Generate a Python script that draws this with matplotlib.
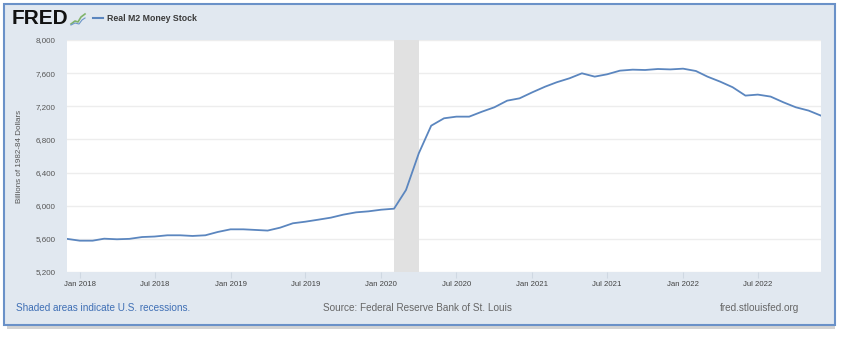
import matplotlib
matplotlib.use("Agg")
import matplotlib.pyplot as plt
from matplotlib.patches import Rectangle
from matplotlib.lines import Line2D
import pandas as pd

plt.rcParams['font.family'] = ['Liberation Sans', 'DejaVu Sans']

# ---- data (monthly, Dec 2017 .. Dec 2022) ----
start_month = "2017-12-01"
m2_values = [5600, 5578, 5578, 5602, 5595, 5600, 5622, 5628, 5643, 5643,
             5635, 5643, 5683, 5715, 5715, 5708, 5700, 5735, 5788, 5807,
             5831, 5856, 5892, 5920, 5932, 5952, 5964, 6190, 6633, 6966,
             7055, 7075, 7075, 7135, 7188, 7268, 7296, 7369, 7437, 7490,
             7538, 7598, 7558, 7586, 7630, 7642, 7638, 7650, 7645, 7654,
             7626, 7558, 7497, 7430, 7329, 7341, 7317, 7248, 7188, 7148,
             7087]
recession = ("2020-02-01", "2020-04-01")
y_ticks = [5200, 5600, 6000, 6400, 6800, 7200, 7600, 8000]
x_tick_dates = ["2018-01-01", "2018-07-01", "2019-01-01", "2019-07-01",
                "2020-01-01", "2020-07-01", "2021-01-01", "2021-07-01",
                "2022-01-01", "2022-07-01"]
x_tick_labels = ["Jan 2018", "Jul 2018", "Jan 2019", "Jul 2019", "Jan 2020",
                 "Jul 2020", "Jan 2021", "Jul 2021", "Jan 2022", "Jul 2022"]
series_name = "Real M2 Money Stock"
y_label = "Billions of 1982-84 Dollars"

dates = pd.date_range(start_month, periods=len(m2_values), freq="MS")

W, H = 848, 338
fig = plt.figure(figsize=(W / 100, H / 100), dpi=100)
fig.patch.set_facecolor("white")

def fx(px):
    return px / W

def fy(py):
    return 1 - py / H

# shadow + frame
fig.add_artist(Rectangle((fx(7), fy(329)), fx(832) - fx(4), fy(4) - fy(325),
                         transform=fig.transFigure, facecolor="#a8a8a8",
                         edgecolor="none", alpha=0.5, zorder=-2))
fig.add_artist(Rectangle((fx(4), fy(325)), fx(835) - fx(4), fy(4) - fy(325),
                         transform=fig.transFigure, facecolor="#e1e8f0",
                         edgecolor="#6a91c8", linewidth=1.5, zorder=-1))

ax = fig.add_axes([fx(67), fy(272), fx(821) - fx(67), fy(40) - fy(272)])
ax.set_zorder(2)
ax.set_facecolor("white")
ax.axvspan(pd.Timestamp(recession[0]), pd.Timestamp(recession[1]),
           color="#e1e1e1", zorder=1, linewidth=0)
ax.plot(dates, m2_values, color="#5b86bf", linewidth=1.3, zorder=3)

ax.set_xlim(dates[0], dates[-1])
ax.set_ylim(5200, 8000)
ax.set_yticks(y_ticks)
ax.set_yticklabels([f"{v:,}" for v in y_ticks])
ax.set_xticks([pd.Timestamp(d) for d in x_tick_dates])
ax.set_xticklabels(x_tick_labels)
ax.grid(axis="y", color="#ededed", linewidth=1.0, zorder=0)
ax.set_axisbelow(True)
for s in ax.spines.values():
    s.set_visible(False)
ax.tick_params(axis="y", length=0, pad=8, labelsize=5.8, labelcolor="#555555")
ax.tick_params(axis="x", length=4, color="#cfd8e2", pad=2.5, labelsize=5.6,
               labelcolor="#444444")
ax.set_ylabel(y_label, fontsize=5.8, color="#555555", labelpad=9)

# header
fig.text(fx(12), fy(19), "FRED", fontsize=15, fontweight="bold",
         color="#111111", va="center", ha="left")
# small logo icon
fig.add_artist(Line2D([fx(71), fx(75), fx(78), fx(81), fx(85)],
                      [fy(24), fy(21), fy(22), fy(17), fy(14)],
                      transform=fig.transFigure, color="#7fb36a", lw=1.2))
fig.add_artist(Line2D([fx(71), fx(75), fx(79), fx(82), fx(85)],
                      [fy(25), fy(23), fy(24), fy(20), fy(18)],
                      transform=fig.transFigure, color="#6d96c8", lw=0.8))
fig.add_artist(Line2D([fx(93), fx(103)], [fy(18), fy(18)],
                      transform=fig.transFigure, color="#5b86bf", lw=1.5))
fig.text(fx(107), fy(18.5), series_name, fontsize=6.3, fontweight="bold",
         color="#3a3a3a", va="center", ha="left")

# footer
fig.text(fx(16), fy(308), "Shaded areas indicate U.S. recessions.",
         fontsize=7.2, color="#3f6fb5", va="center", ha="left")
fig.text(fx(323), fy(308), "Source: Federal Reserve Bank of St. Louis",
         fontsize=7.2, color="#666666", va="center", ha="left")
fig.text(fx(799), fy(308), "fred.stlouisfed.org", fontsize=7.2,
         color="#666666", va="center", ha="right")

fig.savefig("out.png", dpi=100)
